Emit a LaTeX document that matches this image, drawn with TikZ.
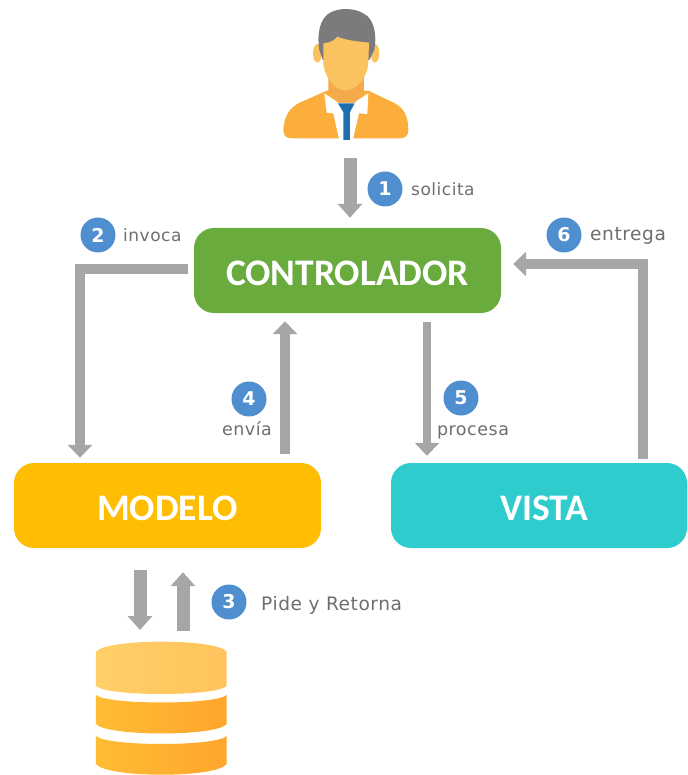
\documentclass[tikz,border=0pt]{standalone}
\usepackage{fontspec}
\setmainfont{DejaVu Sans}
\newfontfamily\boxfont{Carlito}
\newfontfamily\labfont[LetterSpace=3]{DejaVu Sans}
\usetikzlibrary{arrows.meta}
\definecolor{flecha}{HTML}{A6A6A8}
\definecolor{azul}{HTML}{4F8FD0}
\definecolor{texto}{HTML}{6E6E72}
\definecolor{naranja}{HTML}{FBAE3C}
\definecolor{piel}{HTML}{FBC35F}
\definecolor{cuello}{HTML}{F4A94A}
\definecolor{pelo}{HTML}{7B7B7D}
\definecolor{corbata}{HTML}{1D6FB0}
\definecolor{verde}{HTML}{6AAB3E}
\definecolor{ambar}{HTML}{FFBD03}
\definecolor{turquesa}{HTML}{2ECCCD}
\definecolor{dbA}{HTML}{FFCF68}
\definecolor{dbB}{HTML}{FFC35C}
\definecolor{dbC}{HTML}{FFBC35}
\definecolor{dbD}{HTML}{FFA62C}
\tikzset{
  caja/.style={rounded corners=20pt,minimum height=85pt,inner sep=0pt,text=white,text height=30pt,text depth=0pt,font=\boxfont\bfseries\fontsize{37.5}{37.5}\selectfont},
  flechita/.style={draw=flecha,line width=10pt,-{Triangle[length=13pt,width=24pt]}},
  flechaF/.style={draw=flecha,line width=8.5pt,-{Triangle[length=13pt,width=24pt]}},
  flechaG/.style={draw=flecha,line width=13pt,-{Triangle[length=14pt,width=24pt]}},
  num/.style={circle,fill=azul,minimum size=35pt,inner sep=0pt,text=white,font=\bfseries\fontsize{19}{19}\selectfont},
  etq/.style={anchor=base west,inner sep=0pt,text=texto,font=\labfont\fontsize{17}{17}\selectfont},
  etqc/.style={anchor=base,inner sep=0pt,text=texto,font=\labfont\fontsize{17.5}{17}\selectfont},
  etqg/.style={anchor=base west,inner sep=0pt,text=texto,font=\labfont\fontsize{18.6}{17}\selectfont}
}
\begin{document}
\begin{tikzpicture}[x=1pt,y=-1pt]
\useasboundingbox (0,0) rectangle (687,775);
% boxes
\node[caja,fill=verde,minimum width=307pt] (ctrl) at (347.5,270.5) {CONTROLADOR};
\node[caja,fill=ambar,minimum width=307pt] (modelo) at (167.5,505.5) {MODELO};
\node[caja,fill=turquesa,minimum width=296pt] (vista) at (539,505.5) {\hspace{10pt}VISTA};
% person
\begin{scope}[shift={(260,0)},x=0.3333pt,y=-0.3333pt]
  \fill[piel] (172,160) ellipse (13 and 28);
  \fill[piel] (345,160) ellipse (13 and 28);
  \fill[naranja] (70,390) .. controls (72,350) and (88,325) .. (115,310) -- (200,272) -- (325,272) -- (405,310) .. controls (432,325) and (445,350) .. (445,390) .. controls (445,408) and (435,415) .. (420,415) -- (95,415) .. controls (80,415) and (70,408) .. (70,390) -- cycle;
  \fill[white] (193,280) -- (235,308) -- (282,308) -- (325,280) -- (322,342) -- (297,340) -- (278,422) -- (238,422) -- (220,340) -- (200,338) -- cycle;
  \fill[cuello] (205,225) -- (312,225) -- (312,275) -- (285,308) -- (235,308) -- (205,275) -- cycle;
  \fill[corbata] (234,310) -- (284,310) -- (270,336) -- (270,420) -- (250,420) -- (250,336) -- cycle;
  \fill[pelo] (188,180) -- (178,150) .. controls (170,100) and (180,55) .. (210,38) .. controls (240,22) and (290,22) .. (322,48) .. controls (345,70) and (350,110) .. (343,150) -- (328,180) -- cycle;
  \fill[piel] (190,130) .. controls (215,128) and (225,118) .. (232,110) .. controls (260,122) and (300,125) .. (327,128) -- (325,190) .. controls (320,240) and (285,272) .. (258,272) .. controls (230,272) and (195,240) .. (190,190) -- cycle;
\end{scope}
\coordinate (persona) at (346,138);
% database
\begin{scope}[shift={(70,560)},x=0.3333pt,y=-0.3333pt]
  \shade[left color=dbA,right color=dbB] (78,275) .. controls (110,235) and (440,235) .. (470,275) -- (470,378) .. controls (440,410) and (110,410) .. (78,378) -- cycle;
  \shade[left color=dbC,right color=dbD] (78,405) .. controls (110,435) and (440,435) .. (470,405) -- (470,492) .. controls (440,530) and (110,530) .. (78,492) -- cycle;
  \shade[left color=dbC,right color=dbD] (78,528) .. controls (110,560) and (440,560) .. (470,528) -- (470,612) .. controls (440,655) and (110,655) .. (78,612) -- cycle;
\end{scope}
\coordinate (base) at (161,640);
% connectors
\draw[flechaG] ([xshift=4pt,yshift=-20pt]persona) -- ([xshift=2.5pt,yshift=10pt]ctrl.north);
\draw[flechita] ([xshift=-6pt,yshift=1.5pt]ctrl.west) -| ([xshift=-87.5pt,yshift=5pt]modelo.north);
\draw[flechita] ([xshift=117.5pt,yshift=9pt]modelo.north) -- ([xshift=-62.5pt,yshift=-8pt]ctrl.south);
\draw[flechaF] ([xshift=79.5pt,yshift=-9pt]ctrl.south) -- ([xshift=-112pt,yshift=7pt]vista.north);
\draw[flechita] ([xshift=104pt,yshift=4pt]vista.north) |- ([xshift=12pt,yshift=6.5pt]ctrl.east);
\draw[flechaG] ([xshift=-27.5pt,yshift=-22pt]modelo.south) -- ([xshift=-21pt,yshift=10pt]base);
\draw[flechaG] ([xshift=22pt,yshift=9pt]base) -- ([xshift=15.5pt,yshift=-24pt]modelo.south);
% numbers
\node[num] (n1) at (385,189) {1};
\node[num] (n2) at (98,235) {2};
\node[num] (n3) at (229,602) {3};
\node[num] (n4) at (249,399) {4};
\node[num] (n5) at (461,398) {5};
\node[num] (n6) at (564,235) {6};
% labels
\node[etq] (l1) at (411,196) {solicita};
\node[etq] (l2) at (123,242) {invoca};
\node[etqg] (l3) at (261,610) {Pide y Retorna};
\node[etqc] (l4) at (247,435) {envía};
\node[etqc] (l5) at (473,435) {procesa};
\node[etqg] (l6) at (590,241) {entrega};
\end{tikzpicture}
\end{document}
